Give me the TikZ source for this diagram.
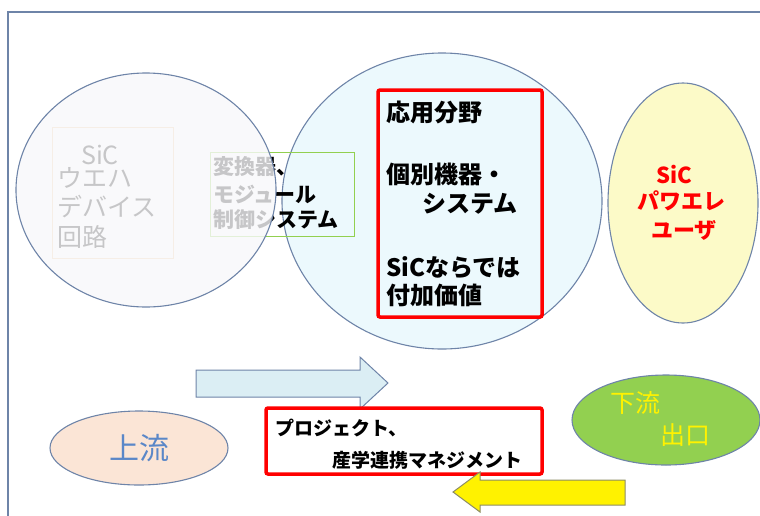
\documentclass[tikz,border=0pt]{standalone}
\usepackage{fontspec}
\newfontfamily\jp{Noto Sans CJK JP}
\usetikzlibrary{shapes.geometric,positioning}
\definecolor{edgeblue}{RGB}{110,132,168}
\definecolor{midfill}{RGB}{236,249,253}
\definecolor{leftfill}{RGB}{248,248,250}
\definecolor{userfill}{RGB}{252,250,200}
\definecolor{downfill}{RGB}{146,208,80}
\definecolor{upfill}{RGB}{251,229,214}
\definecolor{arrowfill}{RGB}{219,238,244}
\definecolor{upblue}{RGB}{90,135,200}
\definecolor{olive}{RGB}{140,140,100}
\definecolor{boxgreen}{RGB}{146,208,80}
\definecolor{boxorange}{RGB}{240,200,150}

\begin{document}
\begin{tikzpicture}[x=1pt, y=-1pt,
  blob/.style={ellipse, draw=edgeblue, line width=1.1pt, inner sep=0pt},
  redbox/.style={draw=red, line width=3.5pt, rounded corners=2pt, inner sep=0pt},
  thinbox/.style={line width=1pt, inner sep=0pt},
  txt/.style={anchor=west, inner sep=0pt, font=\jp\bfseries\fontsize{24}{26}\selectfont},
  small/.style={txt, font=\jp\bfseries\fontsize{21}{23}\selectfont},
  faded/.style={txt, font=\jp\fontsize{25}{27}\selectfont},
  mgmt/.style={txt, font=\jp\bfseries\fontsize{19}{21}\selectfont},
  usertxt/.style={inner sep=0pt, text=red, font=\jp\bfseries\fontsize{22}{24}\selectfont},
  downtxt/.style={txt, text=yellow, font=\jp\fontsize{25}{27}\selectfont},
  flow/.style={draw=edgeblue, line width=1pt, fill=arrowfill, line join=miter}]
\useasboundingbox (0,0) rectangle (760,515);
\clip (0,0) rectangle (760,515);
\draw[edgeblue, line width=1.5pt] (8,12) rectangle (790,540);

% middle circle with the application box
\node[blob, fill=midfill, minimum width=320pt, minimum height=296pt] (mid) at (442,201) {};
\node[redbox, minimum width=164pt, minimum height=227pt] (app) at (460,203.5) {};
\node[txt] (app1) at (386,112) {応用分野};
\node[txt] (app2) at (386,174) {個別機器・};
\node[txt] (app3) at (422,204) {システム};
\node[txt] (app4) at (386,268) {SiCならでは};
\node[txt] (app5) at (386,295) {付加価値};

% boxes under the left circle
\node[thinbox, draw=boxgreen, minimum width=144pt, minimum height=84pt] (conv) at (282,194) {};
\node[small] (conv1) at (213,167) {変換器、};
\node[small] (conv2) at (213,194) {モジュール};
\node[small] (conv3) at (213,220) {制御システム};
\node[thinbox, draw=boxorange, minimum width=121pt, minimum height=131pt] (wafer) at (112.5,192.5) {};
\node[faded, anchor=center] (wafer1) at (100,155) {SiC};
\node[faded] (wafer2) at (57,178) {ウエハ};
\node[faded] (wafer3) at (57,207) {デバイス};
\node[faded] (wafer4) at (57,237) {回路};
\node[blob, fill=leftfill, fill opacity=0.8, draw opacity=1, minimum width=260pt, minimum height=234pt] (left) at (146,190) {};

% users
\node[blob, fill=userfill, minimum width=150pt, minimum height=240pt] (user) at (683,203) {};
\node[usertxt] (user1) at (674,175) {SiC};
\node[usertxt] (user2) at (681,201) {パワエレ};
\node[usertxt] (user3) at (684,230) {ユーザ};

% flow arrows and management box
\draw[flow] (196,370) -- (360,370) -- (360,357) -- (388,383) -- (360,409) -- (360,397) -- (196,397) -- cycle;
\node[redbox, fill=white, minimum width=276pt, minimum height=66pt] (pm) at (404,441) {};
\node[mgmt] (pm1) at (275,428) {プロジェクト、};
\node[mgmt] (pm2) at (332,460) {産学連携マネジメント};
\draw[flow, draw=olive, fill=yellow] (453,492) -- (480,472) -- (480,480) -- (625,480) -- (625,505) -- (480,505) -- (480,512) -- cycle;

% upstream and downstream
\node[blob, fill=upfill, minimum width=178pt, minimum height=74pt, text=upblue, font=\jp\fontsize{30}{32}\selectfont] (up) at (139,448) {上流};
\node[blob, fill=downfill, minimum width=188pt, minimum height=90pt] (down) at (666,420) {};
\node[downtxt] (down1) at (610,403) {下流};
\node[downtxt] (down2) at (660,435) {出口};
\end{tikzpicture}
\end{document}
